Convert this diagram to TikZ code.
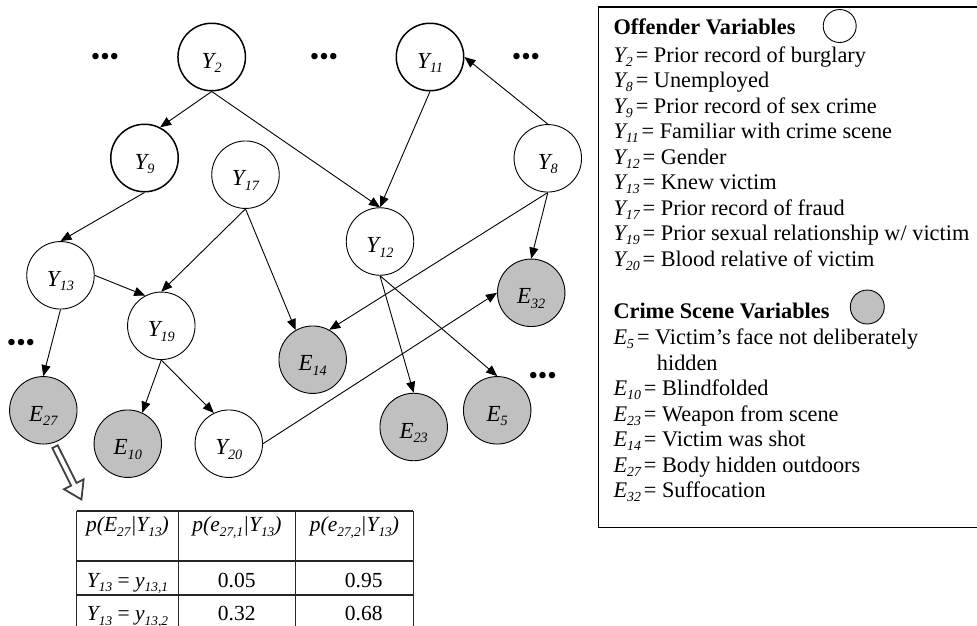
\documentclass[tikz,border=0pt]{standalone}
\usepackage{fontspec}
\setmainfont{Liberation Serif}
\usetikzlibrary{arrows.meta}
\definecolor{evgray}{HTML}{C0C0C0}
\definecolor{blockgray}{HTML}{404040}
\makeatletter
\newcommand\ssub[1]{{\@tempdima=\f@size pt\relax
  \@tempdima=0.62\@tempdima
  \edef\ssubsize{\strip@pt\@tempdima}%
  \raisebox{-0.2em}{\fontsize{\ssubsize}{\ssubsize}\selectfont #1}}}
\newcommand\eqk{\kern3pt=}
\makeatother
\begin{document}
\begin{tikzpicture}[x=1pt,y=-1pt,
  var/.style={circle, draw, line width=0.9pt, minimum size=67.5pt, inner sep=0pt,
    font=\fontsize{23}{23}\selectfont\itshape, text height=22pt, text depth=0pt},
  thickvar/.style={var, line width=1.5pt},
  ev/.style={var, fill=evgray},
  edge/.style={-{Triangle[length=11pt,width=9pt]}, line width=0.9pt},
  dotsnode/.style={font=\fontsize{27}{27}\selectfont, inner sep=0pt, anchor=base, yshift=-9pt},
  leg/.style={anchor=base west, inner sep=0pt, font=\fontsize{22.3}{22.3}\selectfont},
  leghead/.style={leg, font=\fontsize{22.3}{22.3}\selectfont\bfseries},
  cell/.style={anchor=base, inner sep=0pt, font=\fontsize{21.5}{21.5}\selectfont},
  tbl/.style={line width=1.3pt, draw=black!85},
  blockarrow/.style={line width=1.8pt, draw=blockgray, fill=white, line join=miter}
]
\useasboundingbox (0,0) rectangle (977,625);
\clip (0,0) rectangle (977,625);

% ---- network nodes ----
\node[thickvar] (Y2)  at (211.7,57)    {Y\ssub{2}};
\node[thickvar] (Y11) at (430,57)      {Y\ssub{11}};
\node[thickvar] (Y9)  at (144.5,158)   {Y\ssub{9}};
\node[var] (Y17) at (245.5,174.7) {Y\ssub{17}};
\node[var] (Y8)  at (547.8,158.3) {Y\ssub{8}};
\node[var] (Y12) at (380,241.5)   {Y\ssub{12}};
\node[var] (Y13) at (60.5,275.3)  {Y\ssub{13}};
\node[var] (Y19) at (161.3,325.8) {Y\ssub{19}};
\node[var] (Y20) at (228.8,443.7) {Y\ssub{20}};
\node[ev] (E14) at (312.7,359.7) {E\ssub{14}};
\node[ev] (E32) at (531.2,292.8) {E\ssub{32}};
\node[ev] (E27) at (43.3,410.3)  {E\ssub{27}};
\node[ev] (E10) at (127.8,443.7) {E\ssub{10}};
\node[ev] (E23) at (413.7,427)   {E\ssub{23}};
\node[ev] (E5)  at (497.2,410.3) {E\ssub{5}};

% ---- ellipses ----
\node[dotsnode] (d1) at (105,56)      {•••};
\node[dotsnode] (d2) at (324,56)      {•••};
\node[dotsnode] (d3) at (526,56)      {•••};
\node[dotsnode] (d4) at (21,342)      {•••};
\node[dotsnode] (d5) at (542.7,375.7) {•••};

% ---- edges ----
\draw[edge] (Y2.south) -- (Y9.63);
\draw[edge] (Y2.south) -- (Y12.north);
\draw[edge] (Y11.south) -- (Y12.north);
\draw[edge] (Y8.north) -- (Y11.east);
\draw[edge] (Y9.south) -- (Y13.north);
\draw[edge] (Y17.south) -- (Y19.north);
\draw[edge] (Y17.south) -- (E14.120);
\draw[edge] (Y13.east) -- (Y19.118);
\draw[edge] (Y13.south) -- (E27.north);
\draw[edge] (Y19.south) -- (E10.65);
\draw[edge] (Y19.south) -- (Y20.116);
\draw[edge] (Y8.south) -- (E14.61);
\draw[edge] (Y8.south) -- (E32.north);
\draw[edge] (Y12.south) -- (E23.north);
\draw[edge] (Y12.south) -- (E5.north);
\draw[edge] (Y20.east) -- (E32.west);

% ---- hollow block arrow to the table ----
\coordinate (ba) at (55,446.7);
\draw[blockarrow, shift={(ba)}, rotate=-63.4]
  (0,-3) -- (42,-3) -- (42,-11) -- (59,0) -- (42,11) -- (42,3) -- (0,3) -- cycle;

% ---- table ----
\draw[tbl] (76.7,511) -- (413.3,511);
\draw[tbl] (76.7,561) -- (413.3,561);
\draw[tbl] (76.7,595) -- (413.3,595);
\draw[tbl] (76.7,511) -- (76.7,640);
\draw[tbl] (178.3,511) -- (178.3,640);
\draw[tbl] (295.7,511) -- (295.7,640);
\draw[tbl] (413.3,511) -- (413.3,640);
\node[cell] (h1) at (127.5,531.7) {\textit{p(E\ssub{27}|Y\ssub{13})}};
\node[cell] (h2) at (237,531.7)   {\textit{p(e\ssub{27,1}|Y\ssub{13})}};
\node[cell] (h3) at (354.5,531.7) {\textit{p(e\ssub{27,2}|Y\ssub{13})}};
\node[cell] (r1) at (127.5,587.3) {\textit{Y\ssub{13}} = \textit{y\ssub{13,1}}};
\node[cell] (v11) at (236.7,587.3) {0.05};
\node[cell] (v12) at (363.8,587.3) {0.95};
\node[cell] (r2) at (127.5,620.7) {\textit{Y\ssub{13}} = \textit{y\ssub{13,2}}};
\node[cell] (v21) at (236.7,620.7) {0.32};
\node[cell] (v22) at (363.8,620.7) {0.68};

% ---- legend ----
\draw[line width=1.2pt] (598.3,7) rectangle (990,527.3);
\node[leghead] (hoff) at (613.3,34.3) {Offender Variables};
\node[circle, draw, line width=0.9pt, minimum size=33pt, inner sep=0pt] (coff) at (839.7,26) {};
\node[leg] (lY2)  at (613.3,62)    {\textit{Y\ssub{2}}\eqk{} Prior record of burglary};
\node[leg] (lY8)  at (613.3,87.5)  {\textit{Y\ssub{8}}\eqk{} Unemployed};
\node[leg] (lY9)  at (613.3,113)   {\textit{Y\ssub{9}}\eqk{} Prior record of sex crime};
\node[leg] (lY11) at (613.3,138.5) {\textit{Y\ssub{11}}\eqk{} Familiar with crime scene};
\node[leg] (lY12) at (613.3,164)   {\textit{Y\ssub{12}}\eqk{} Gender};
\node[leg] (lY13) at (613.3,189.5) {\textit{Y\ssub{13}}\eqk{} Knew victim};
\node[leg] (lY17) at (613.3,215)   {\textit{Y\ssub{17}}\eqk{} Prior record of fraud};
\node[leg] (lY19) at (613.3,240.5) {\textit{Y\ssub{19}}\eqk{} Prior sexual relationship w/ victim};
\node[leg] (lY20) at (613.3,266)   {\textit{Y\ssub{20}}\eqk{} Blood relative of victim};
\node[leghead] (hcr) at (613.3,318.3) {Crime Scene Variables};
\node[circle, draw, line width=0.9pt, fill=evgray, minimum size=34pt, inner sep=0pt] (ccr) at (867.3,307) {};
\node[leg] (lE5)  at (613.3,344.5) {\textit{E\ssub{5}}\eqk{} Victim’s face not deliberately};
\node[leg] (lE5b) at (656.7,370)   {hidden};
\node[leg] (lE10) at (613.3,395.5) {\textit{E\ssub{10}}\eqk{} Blindfolded};
\node[leg] (lE23) at (613.3,421)   {\textit{E\ssub{23}}\eqk{} Weapon from scene};
\node[leg] (lE14) at (613.3,446.5) {\textit{E\ssub{14}}\eqk{} Victim was shot};
\node[leg] (lE27) at (613.3,472)   {\textit{E\ssub{27}}\eqk{} Body hidden outdoors};
\node[leg] (lE32) at (613.3,497.5) {\textit{E\ssub{32}}\eqk{} Suffocation};
\end{tikzpicture}
\end{document}
